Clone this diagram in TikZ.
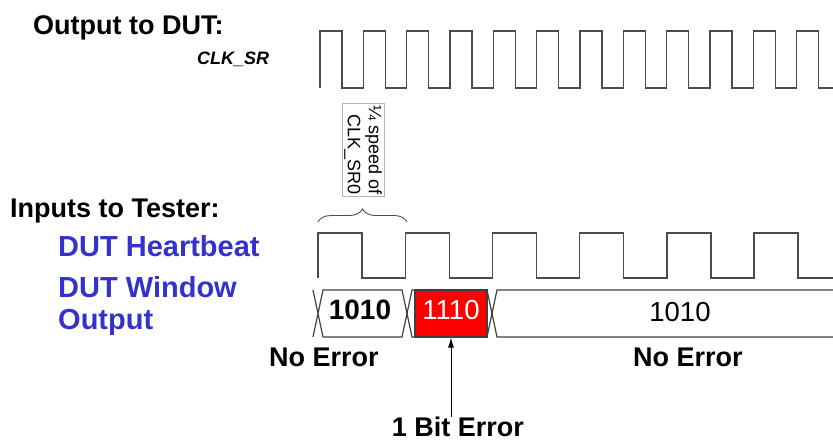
\documentclass[tikz,border=0pt]{standalone}
\usepackage{fontspec}
\setmainfont{Liberation Sans}
\usetikzlibrary{positioning, arrows.meta, decorations.pathreplacing}
\definecolor{dutblue}{RGB}{51,51,204}
\tikzstyle{wave}=[line width=1.4pt, black!70]
\tikzstyle{bus}=[line width=1.2pt, black!75]
\tikzstyle{lbl}=[inner sep=0pt, anchor=base west, font=\fontsize{27}{30}\selectfont\bfseries]
\tikzstyle{sig}=[lbl, text=dutblue, font=\fontsize{29}{32}\selectfont\bfseries]
\tikzstyle{val}=[inner sep=0pt, anchor=base, font=\fontsize{27.5}{29}\selectfont]
\tikzstyle{errbox}=[val, anchor=center, fill=red, draw=black!75, line width=1.2pt, text=white,
                    minimum width=72pt, minimum height=47pt, text depth=6.5pt]
\tikzstyle{note}=[draw=black!30, rotate=-90, align=right, inner sep=2pt,
                  font=\fontsize{18}{21}\selectfont]
\tikzstyle{ar}=[-{Latex[length=10pt, width=6pt]}, line width=0.8pt]

\begin{document}
\begin{tikzpicture}[x=1pt, y=-1pt]
    \useasboundingbox (0,0) rectangle (833,443);
    % output side
    \node[lbl] (out) at (33,35) {Output to DUT:};
    \node[lbl, font=\fontsize{18}{20}\selectfont\bfseries\itshape] (clk) at (197,65) {CLK\_SR};
    \draw[wave] (320,88) \foreach \k in {0,...,10} { -- ++(0,-57) -- ++(22,0) -- ++(0,57) -- ++(21.33,0) }
        -- ++(0,-57) -- ++(22,0) -- ++(0,57) -- (833,88);
    % divider note
    \node[note] (quarter) at (363,150) {¼ speed of\\CLK\_SR0};
    \draw[decorate, decoration={brace, amplitude=13pt}, line width=0.9pt, black!70] (318,222) -- (407,222);
    % input side
    \node[lbl] (inp) at (10,218) {Inputs to Tester:};
    \node[sig] (hb) at (58,257) {DUT Heartbeat};
    \node[sig] (win) at (58,298) {DUT Window};
    \node[sig] (winb) at (58,330) {Output};
    \draw[wave] (318,278) \foreach \k in {0,...,4} { -- ++(0,-45) -- ++(44,0) -- ++(0,45) -- ++(43.2,0) }
        -- ++(0,-45) -- ++(44,0) -- ++(0,45) -- (833,278);
    % window bus
    \draw[bus] (313,290) -- (323,337) (313,337) -- (323,290) -- (402,290) -- (412,337) -- (487,337) -- (497,290) -- (833,290);
    \draw[bus] (323,337) -- (402,337) -- (412,290) -- (487,290) -- (497,337) -- (833,337);
    \node[errbox] (err) at (451,313.5) {1110};
    \node[val, font=\fontsize{28}{30}\selectfont\bfseries] (v1) at (360,320) {1010};
    \node[val] (v3) at (680,322) {1010};
    % error notes
    \node[lbl, anchor=base] (ok1) at (324,367) {No Error};
    \node[lbl, anchor=base] (ok2) at (688,367) {No Error};
    \node[lbl, anchor=base] (bit) at (458,437) {1 Bit Error};
    \draw[ar] (err.south |- bit.north) -- (err.south);
\end{tikzpicture}
\end{document}
